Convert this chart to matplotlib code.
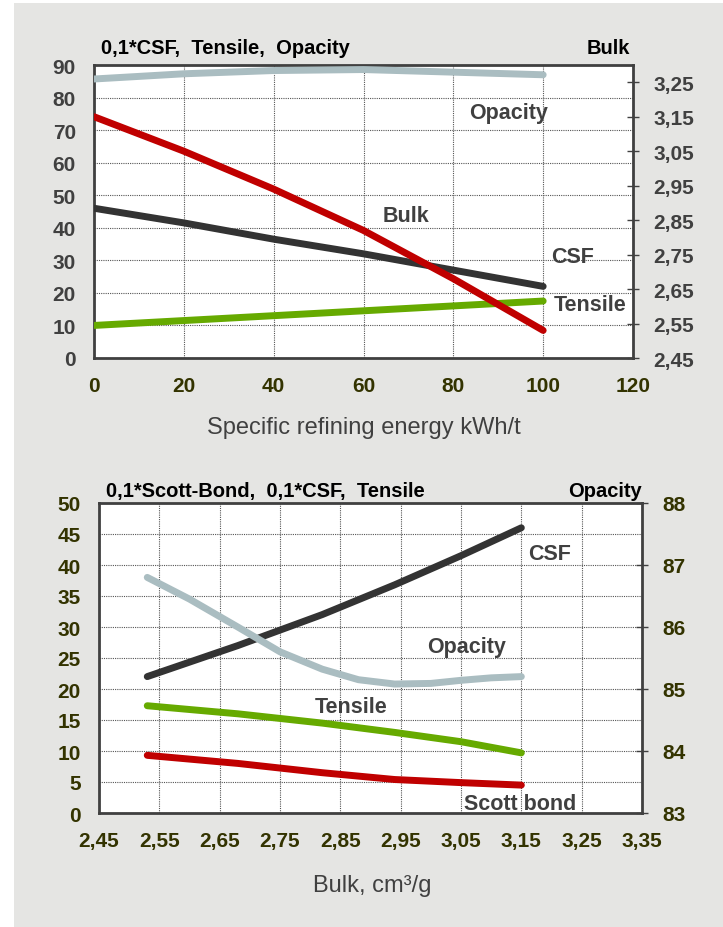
import matplotlib
matplotlib.use("Agg")
import matplotlib.pyplot as plt
from matplotlib.patches import Rectangle

plt.rcParams['font.family'] = ['Liberation Sans', 'DejaVu Sans']

# top chart: properties vs specific refining energy
energy = [0, 20, 40, 60, 80, 100]
opacity_top = [85.7, 87.3, 88.3, 88.6, 87.8, 87.0]
csf_top = [46, 41.5, 36.5, 32, 27, 22]
tensile_top = [10, 11.5, 13, 14.5, 16, 17.5]
bulk_top = [3.15, 3.05, 2.94, 2.82, 2.68, 2.53]

# bottom chart: properties vs bulk
bulk = [2.53, 2.68, 2.82, 2.94, 3.05, 3.15]
csf_bot = [22, 27, 32, 36.8, 41.5, 46]
tensile_bot = [17.3, 16.0, 14.5, 13.0, 11.5, 9.7]
scott_bot = [9.3, 8.0, 6.5, 5.4, 4.9, 4.5]
bulk_opac = [2.53, 2.60, 2.68, 2.75, 2.82, 2.88, 2.94, 3.00, 3.05, 3.10, 3.15]
opacity_bot = [86.8, 86.45, 86.0, 85.6, 85.32, 85.15, 85.08, 85.09, 85.14, 85.18, 85.2]

xt_top = [0, 20, 40, 60, 80, 100, 120]
yl_top = list(range(0, 91, 10))
yr_top = [2.45, 2.55, 2.65, 2.75, 2.85, 2.95, 3.05, 3.15, 3.25]
xt_bot = [2.45, 2.55, 2.65, 2.75, 2.85, 2.95, 3.05, 3.15, 3.25, 3.35]
yl_bot = list(range(0, 51, 5))
yr_bot = [83, 84, 85, 86, 87, 88]

GREY_LINE = '#333333'
RED = '#c00000'
GREEN = '#66aa00'
OPAC = '#aabdc1'
DARK = '#404040'
OLIVE = '#333300'
FS = 15
LFS = 15.5
TFS = 14.5

fig = plt.figure(figsize=(7.23, 9.28), dpi=100)
fig.patch.set_facecolor('white')
fig.patches.append(Rectangle((14/723, 0), 1, 1 - 4/928, transform=fig.transFigure,
                             facecolor='#e5e5e3', edgecolor='none', zorder=-10))

def fmt(v, nd):
    return f"{v:.{nd}f}".replace('.', ',')

def style(ax, ax2, lcol, rcol, xcol):
    ax.set_facecolor('white')
    for s in ax.spines.values():
        s.set_color(DARK)
        s.set_linewidth(2)
    for s in ax2.spines.values():
        s.set_visible(False)
    ax.grid(True, color='#555555', linestyle=(0, (1, 1)), linewidth=0.8)
    ax.tick_params(axis='both', length=0, pad=13, labelsize=FS)
    ax.tick_params(axis='y', labelcolor=lcol)
    ax.tick_params(axis='x', labelcolor=xcol)
    ax2.tick_params(axis='y', direction='inout', length=9, width=1, color=DARK,
                    pad=10, labelsize=FS, labelcolor=rcol)
    for lab in ax.get_xticklabels() + ax.get_yticklabels() + ax2.get_yticklabels():
        lab.set_fontweight('bold')

# ---- top chart ----
ax1 = fig.add_axes([94/723, 1 - 359/928, 539/723, 293/928])
ax1b = ax1.twinx()
ax1.plot(energy, opacity_top, color=OPAC, lw=5, solid_capstyle='round', zorder=3)
ax1.plot(energy, csf_top, color=GREY_LINE, lw=5, solid_capstyle='round', zorder=3)
ax1.plot(energy, tensile_top, color=GREEN, lw=5, solid_capstyle='round', zorder=3)
ax1b.plot(energy, bulk_top, color=RED, lw=5, solid_capstyle='round', zorder=3)
ax1.set_xlim(0, 120)
ax1.set_ylim(0, 90)
ax1b.set_ylim(2.45, 3.30)
ax1.set_xticks(xt_top)
ax1.set_yticks(yl_top)
ax1b.set_yticks(yr_top)
ax1b.set_yticklabels([fmt(v, 2) for v in yr_top])
style(ax1, ax1b, DARK, DARK, OLIVE)

lab_kw = dict(fontsize=LFS, fontweight='bold', color=DARK, va='center', ha='left')
ax1.text(83.6, 75.5, 'Opacity', **lab_kw)
ax1.text(64.2, 43.7, 'Bulk', **lab_kw)
ax1.text(101.8, 31.2, 'CSF', **lab_kw)
ax1.text(102.4, 16.5, 'Tensile', **lab_kw)

fig.text(101/723, 1 - 48/928, '0,1*CSF,  Tensile,  Opacity', fontsize=TFS, fontweight='bold',
         color='black', va='center', ha='left')
fig.text(630/723, 1 - 48/928, 'Bulk', fontsize=TFS, fontweight='bold',
         color='black', va='center', ha='right')
fig.text(364/723, 1 - 428/928, 'Specific refining energy kWh/t', fontsize=17,
         color=DARK, va='center', ha='center')

# ---- bottom chart ----
ax2 = fig.add_axes([99/723, 1 - 814/928, 543/723, 310/928])
ax2b = ax2.twinx()
ax2.plot(bulk, csf_bot, color=GREY_LINE, lw=5, solid_capstyle='round', zorder=3)
ax2.plot(bulk, tensile_bot, color=GREEN, lw=5, solid_capstyle='round', zorder=3)
ax2.plot(bulk, scott_bot, color=RED, lw=5, solid_capstyle='round', zorder=3)
ax2b.plot(bulk_opac, opacity_bot, color=OPAC, lw=5, solid_capstyle='round',
          solid_joinstyle='round', zorder=3)
ax2.set_xlim(2.45, 3.35)
ax2.set_ylim(0, 50)
ax2b.set_ylim(83, 88)
ax2.set_xticks(xt_bot)
ax2.set_xticklabels([fmt(v, 2) for v in xt_bot])
ax2.set_yticks(yl_bot)
ax2b.set_yticks(yr_bot)
style(ax2, ax2b, OLIVE, OLIVE, OLIVE)

ax2.text(3.161, 41.9, 'CSF', **lab_kw)
ax2.text(2.994, 26.9, 'Opacity', **lab_kw)
ax2.text(2.808, 17.1, 'Tensile', **lab_kw)
ax2.text(3.055, 1.6, 'Scott bond', **lab_kw)

fig.text(106/723, 1 - 492/928, '0,1*Scott-Bond,  0,1*CSF,  Tensile', fontsize=TFS,
         fontweight='bold', color='black', va='center', ha='left')
fig.text(642/723, 1 - 492/928, 'Opacity', fontsize=TFS, fontweight='bold',
         color='black', va='center', ha='right')
fig.text(372/723, 1 - 886/928, 'Bulk, cm³/g', fontsize=17,
         color=DARK, va='center', ha='center')

fig.savefig('out.png', dpi=100)
